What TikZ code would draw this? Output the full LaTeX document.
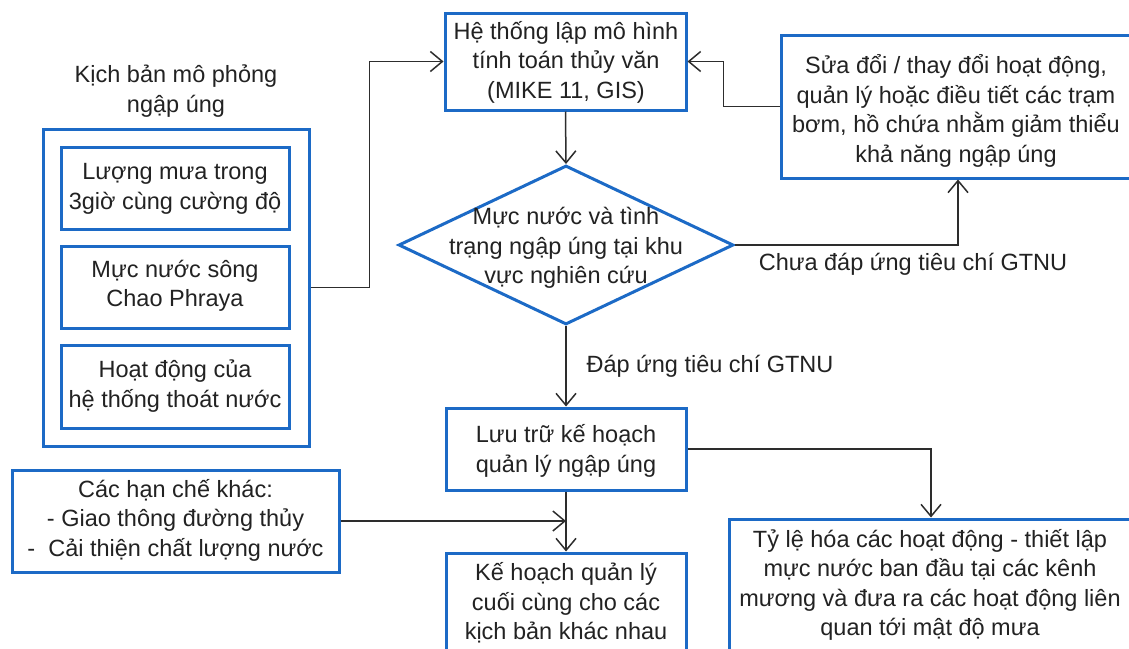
\documentclass[tikz,border=0pt]{standalone}
\usepackage{fontspec}
\setmainfont{Liberation Sans}
\usetikzlibrary{arrows.meta,shapes.geometric}
\definecolor{boxblue}{RGB}{28,106,198}
\definecolor{inkgray}{RGB}{34,34,34}
\definecolor{linegray}{RGB}{45,45,45}
\tikzset{
  box/.style={draw=boxblue, line width=3pt, rectangle, inner sep=0pt, fill=white},
  decision/.style={draw=boxblue, line width=3pt, diamond, inner sep=0pt, fill=white},
  txt/.style={align=center, text=inkgray, inner sep=0pt,
    font=\fontsize{23.5}{29.5}\selectfont},
  conn/.style={draw=linegray, line width=1.5pt,
    -{Straight Barb[length=12pt,width=20pt]}},
  plain/.style={draw=linegray, line width=1.5pt}
}
\begin{document}
\begin{tikzpicture}[x=1pt,y=-1pt]
\clip (0,0) rectangle (1129,648);
\fill[white] (0,0) rectangle (1129,648);

% scenario group on the left
\node[txt] (title) at (176,91) {Kịch bản mô phỏng\\ngập úng};
\node[box, minimum width=266pt, minimum height=317pt] (outer) at (176,287.5) {};
\node[box, minimum width=228pt, minimum height=82pt] (rain) at (175,188) {};
\node[txt] at (175,189) {Lượng mưa trong\\3giờ cùng cường độ};
\node[box, minimum width=228pt, minimum height=82pt] (river) at (175,287) {};
\node[txt] at (175,286) {Mực nước sông\\Chao Phraya};
\node[box, minimum width=228pt, minimum height=83pt] (drain) at (175,386.5) {};
\node[txt] at (175,386) {Hoạt động của\\hệ thống thoát nước};

% model and decision
\node[box, minimum width=241pt, minimum height=97pt] (model) at (565.5,61.5) {};
\node[txt] at (566,62) {Hệ thống lập mô hình\\tính toán thủy văn\\(MIKE 11, GIS)};
\node[box, minimum width=354pt, minimum height=143pt] (modify) at (958,106.5) {};
\node[txt] at (956,111) {Sửa đổi / thay đổi hoạt động,\\quản lý hoặc điều tiết các trạm\\bơm, hồ chứa nhằm giảm thiểu\\khả năng ngập úng};
\node[decision, minimum width=335pt, minimum height=159pt] (dec) at (566,245) {};
\node[txt] at (566,248) {Mực nước và tình\\trạng ngập úng tại khu\\vực nghiên cứu};

% storage and outputs
\node[box, minimum width=240pt, minimum height=82pt] (store) at (566,449) {};
\node[txt] at (566,451) {Lưu trữ kế hoạch\\quản lý ngập úng};
\node[box, minimum width=327pt, minimum height=102pt] (limits) at (175.5,521) {};
\node[txt] at (175.5,520) {Các hạn chế khác:\\- Giao thông đường thủy\\-~~Cải thiện chất lượng nước};
\node[box, minimum width=240pt, minimum height=102pt] (final) at (566,604) {};
\node[txt] at (566,603) {Kế hoạch quản lý\\cuối cùng cho các\\kịch bản khác nhau};
\node[box, minimum width=404pt, minimum height=132pt] (scale) at (931,585) {};
\node[txt] at (930,585) {Tỷ lệ hóa các hoạt động - thiết lập\\mực nước ban đầu tại các kênh\\mương và đưa ra các hoạt động liên\\quan tới mật độ mưa};

% connectors
\draw[conn] (outer.east) -- ++(59,0) |- (model.west);
\draw[conn] (modify.west) -- ++(-56,0) |- (model.east);
\draw[conn] (model.south) -- (dec.north);
\draw[conn] (dec.east) -| (modify.south);
\node[txt] (nolabel) at (913,264) {Chưa đáp ứng tiêu chí GTNU};
\draw[conn] (dec.south) -- (store.north);
\node[txt] (yeslabel) at (710,366) {Đáp ứng tiêu chí GTNU};
\draw[conn] (store.east) -| (scale.north);
\draw[conn] (store.south) -- (final.north);
\draw[conn] (limits.east) -- (limits.east -| final.north);
\end{tikzpicture}
\end{document}
